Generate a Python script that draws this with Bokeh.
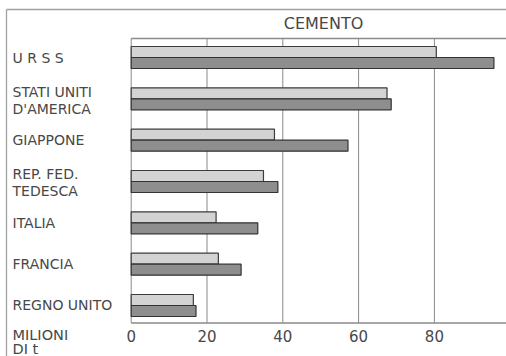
from bokeh.plotting import figure
from bokeh.models import Range1d, ColumnDataSource
from bokeh.core.properties import value
from bokeh.embed import file_html
from bokeh.resources import INLINE

# ---- data ----
countries = ["U R S S", "STATI  UNITI\nD'AMERICA", "GIAPPONE", "REP. FED.\nTEDESCA",
             "ITALIA", "FRANCIA", "REGNO  UNITO"]
serie_chiara = [80.5, 67.5, 37.8, 34.9, 22.4, 23.0, 16.4]
serie_scura = [95.7, 68.6, 57.2, 38.7, 33.4, 29.0, 17.1]
ticks = [0, 20, 40, 60, 80]
tick_labels = ["0", "20", "40", "60", "80"]
title_text = "CEMENTO"
unit_text = ["MILIONI", "DI  t"]

# ---- layout (pixels) ----
W, H = 506, 356
PX = 3.79            # px per unit on x
X0 = 130.7           # px of value 0
PY = 41.33           # px per category
Y_TOP_CAT = 57.0     # px (from top) of top category centre

x_start = -X0 / PX
x_end = (W - X0) / PX
y_end = 6 + Y_TOP_CAT / PY
y_start = y_end - H / PY


def ypx(py):  # px from top -> data y
    return y_end - py / PY


def xpx(px):  # px from left -> data x
    return x_start + px / PX


n = len(countries)
pos = [n - 1 - i for i in range(n)]
bh = 11.0 / PY

p = figure(width=W, height=H, x_range=Range1d(x_start, x_end),
           y_range=Range1d(y_start, y_end), output_backend="svg",
           toolbar_location=None, min_border=0)
p.axis.visible = False
p.grid.visible = False
p.outline_line_color = None
p.background_fill_color = "white"
p.border_fill_color = "white"

top_y = ypx(38)
bot_y = ypx(322.5)
frame_top = ypx(9)

# outer frame lines
p.segment(x0=[xpx(6), xpx(6)], y0=[frame_top, y_start], x1=[x_end, xpx(6)],
          y1=[frame_top, frame_top], line_color="#a0a0a0", line_width=1.3)

# grid lines
p.segment(x0=ticks, y0=[bot_y] * len(ticks), x1=ticks, y1=[top_y] * len(ticks),
          line_color="#8a8a8a", line_width=1)
# top and bottom lines of plot box
p.segment(x0=[0, 0], y0=[top_y, bot_y], x1=[x_end, x_end], y1=[top_y, bot_y],
          line_color="#8a8a8a", line_width=1.3)

src = ColumnDataSource(dict(y1=[v + bh / 2 for v in pos], y2=[v - bh / 2 for v in pos],
                            a=serie_chiara, b=serie_scura))
p.hbar(y="y1", left=0, right="a", height=bh, source=src, fill_color="#d3d3d3",
       line_color="#3c3c3c", line_width=1.2)
p.hbar(y="y2", left=0, right="b", height=bh, source=src, fill_color="#8e8e8e",
       line_color="#333333", line_width=1.2)

font = value("DejaVu Sans")
tc = "#484848"
LH = 17.0  # line spacing px for two-line labels
lx, ly, lt = [], [], []
for c, v in zip(countries, pos):
    lines = c.split("\n")
    k = len(lines)
    for j, s in enumerate(lines):
        lx.append(xpx(12))
        ly.append(v - ((j - (k - 1) / 2) * LH + (1.5 if k > 1 else 0)) / PY)
        lt.append(s)
p.text(x=lx, y=ly, text=lt, text_font=font, text_font_size="14px",
       text_color=tc, text_baseline="middle", text_align="left")

p.text(x=ticks, y=[ypx(335)] * len(ticks), text=tick_labels, text_font=font,
       text_font_size="15px", text_color=tc, text_baseline="middle", text_align="center")

p.text(x=[xpx(12)] * 2, y=[ypx(334), ypx(348)], text=unit_text, text_font=font,
       text_font_size="14.5px", text_color=tc, text_baseline="middle", text_align="left")

p.text(x=[xpx(323)], y=[ypx(23)], text=[title_text], text_font=font, text_font_size="16px",
       text_color=tc, text_baseline="middle", text_align="center")

open("out.html", "w").write(file_html(p, INLINE))
